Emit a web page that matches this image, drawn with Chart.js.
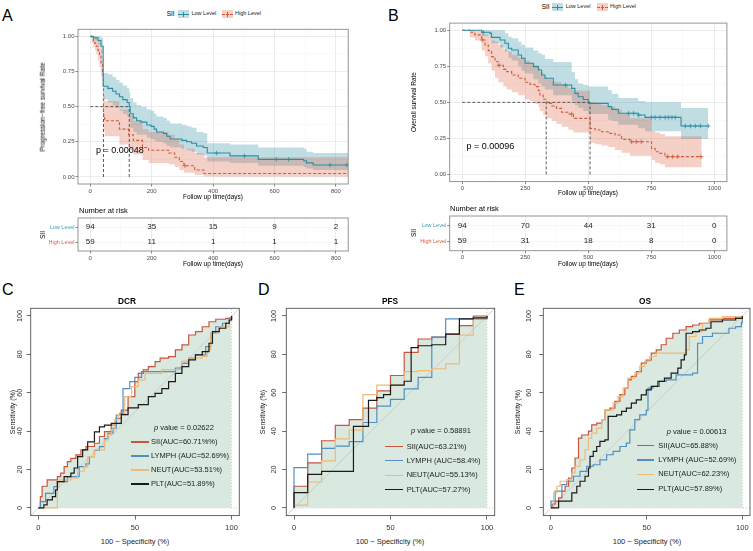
<!DOCTYPE html>
<html><head><meta charset="utf-8">
<script src="https://cdn.jsdelivr.net/npm/chart.js@4.4.1/dist/chart.umd.min.js"></script>
<style>
html,body{margin:0;padding:0;background:#fff;}
#root{position:relative;width:753px;height:551px;overflow:hidden;background:#fff;font-family:"Liberation Sans",Arial,Helvetica,sans-serif;}
#root canvas{position:absolute;}
.t{position:absolute;white-space:nowrap;line-height:1;}
</style></head><body><div id="root"></div>
<script>
// ---------------- DATA ----------------
// Panel A: progression-free survival (days)
const pfsLowTime  = [0, 10, 25, 35, 42, 57, 73, 84, 95, 106, 120, 127, 130, 140, 151, 165, 184, 198, 208, 216, 238, 249, 260, 298, 314, 330, 346, 368, 381, 455, 547, 695, 704, 726, 840];
const pfsLowSurv  = [1.0, 0.99, 0.97, 0.93, 0.645, 0.63, 0.61, 0.59, 0.57, 0.55, 0.53, 0.50, 0.45, 0.42, 0.40, 0.39, 0.37, 0.36, 0.34, 0.32, 0.31, 0.29, 0.27, 0.26, 0.25, 0.24, 0.22, 0.21, 0.17, 0.15, 0.125, 0.115, 0.10, 0.085, 0.085];
const pfsLowLower = [1.0, 0.97, 0.94, 0.88, 0.55, 0.53, 0.51, 0.49, 0.47, 0.45, 0.43, 0.40, 0.35, 0.32, 0.30, 0.30, 0.28, 0.27, 0.26, 0.25, 0.24, 0.22, 0.21, 0.20, 0.19, 0.18, 0.16, 0.15, 0.11, 0.10, 0.08, 0.07, 0.06, 0.05, 0.05];
const pfsLowUpper = [1.0, 1.0, 1.0, 0.99, 0.74, 0.73, 0.71, 0.69, 0.67, 0.65, 0.63, 0.60, 0.56, 0.53, 0.51, 0.50, 0.48, 0.47, 0.45, 0.43, 0.42, 0.40, 0.38, 0.37, 0.36, 0.35, 0.32, 0.31, 0.24, 0.23, 0.21, 0.20, 0.18, 0.17, 0.17];
const pfsHighTime  = [0, 5, 10, 15, 20, 25, 30, 35, 40, 43, 47, 95, 125, 140, 170, 190, 255, 275, 290, 305, 340, 370, 840];
const pfsHighSurv  = [1.0, 0.983, 0.966, 0.95, 0.93, 0.90, 0.86, 0.80, 0.75, 0.44, 0.40, 0.34, 0.30, 0.26, 0.21, 0.19, 0.17, 0.14, 0.11, 0.08, 0.05, 0.025, 0.025];
const pfsHighLower = [1.0, 0.95, 0.92, 0.90, 0.87, 0.83, 0.78, 0.71, 0.65, 0.33, 0.29, 0.23, 0.19, 0.16, 0.12, 0.10, 0.09, 0.07, 0.05, 0.03, 0.015, 0.004, 0.004];
const pfsHighUpper = [1.0, 1.0, 1.0, 1.0, 0.99, 0.98, 0.95, 0.90, 0.86, 0.58, 0.54, 0.48, 0.44, 0.40, 0.34, 0.32, 0.30, 0.27, 0.23, 0.20, 0.17, 0.14, 0.14];
const pfsLowCensor  = [411, 502, 606, 646, 781, 836];
const pfsHighCensor = [308];
const pfsMedians = [43, 127];
const pfsRiskTimes = [0, 200, 400, 600, 800];
const pfsRiskLow   = [94, 35, 15, 9, 2];
const pfsRiskHigh  = [59, 11, 1, 1, 1];
const pfsXMajor = [0, 200, 400, 600, 800];
const pfsXAll   = [0, 100, 200, 300, 400, 500, 600, 700, 800];

// Panel B: overall survival (days)
const osLowTime  = [0, 77, 110, 116, 150, 169, 183, 196, 222, 235, 249, 282, 302, 315, 328, 361, 434, 447, 460, 480, 500, 579, 593, 619, 698, 725, 868, 976];
const osLowSurv  = [1.0, 0.986, 0.979, 0.951, 0.933, 0.91, 0.875, 0.863, 0.829, 0.806, 0.771, 0.748, 0.725, 0.69, 0.667, 0.62, 0.597, 0.5625, 0.539, 0.52, 0.493, 0.47, 0.451, 0.424, 0.412, 0.396, 0.336, 0.336];
const osLowLower = [1.0, 0.96, 0.945, 0.91, 0.88, 0.85, 0.81, 0.79, 0.75, 0.72, 0.70, 0.66, 0.63, 0.61, 0.59, 0.55, 0.51, 0.48, 0.46, 0.44, 0.42, 0.38, 0.37, 0.345, 0.32, 0.30, 0.245, 0.235];
const osLowUpper = [1.0, 1.0, 1.0, 1.0, 1.0, 0.98, 0.956, 0.945, 0.92, 0.90, 0.88, 0.86, 0.84, 0.83, 0.80, 0.78, 0.71, 0.66, 0.63, 0.62, 0.61, 0.585, 0.56, 0.53, 0.51, 0.50, 0.46, 0.46];
const osHighTime  = [0, 30, 50, 77, 90, 103, 116, 130, 143, 163, 176, 196, 222, 249, 269, 288, 302, 308, 321, 335, 355, 374, 394, 421, 441, 507, 527, 553, 579, 606, 632, 665, 751, 765, 784, 804, 950];
const osHighSurv  = [1.0, 0.986, 0.968, 0.933, 0.898, 0.859, 0.817, 0.782, 0.757, 0.729, 0.713, 0.69, 0.667, 0.639, 0.625, 0.609, 0.581, 0.551, 0.521, 0.493, 0.475, 0.458, 0.431, 0.419, 0.389, 0.319, 0.308, 0.296, 0.285, 0.273, 0.243, 0.227, 0.18, 0.157, 0.146, 0.123, 0.123];
const osHighLower = [1.0, 0.95, 0.93, 0.86, 0.82, 0.77, 0.72, 0.67, 0.64, 0.61, 0.59, 0.57, 0.55, 0.52, 0.51, 0.49, 0.47, 0.44, 0.41, 0.39, 0.37, 0.35, 0.33, 0.31, 0.29, 0.22, 0.21, 0.20, 0.19, 0.17, 0.15, 0.13, 0.10, 0.08, 0.07, 0.05, 0.05];
const osHighUpper = [1.0, 1.0, 1.0, 0.98, 0.97, 0.96, 0.93, 0.92, 0.90, 0.87, 0.85, 0.83, 0.81, 0.79, 0.77, 0.76, 0.74, 0.71, 0.68, 0.66, 0.645, 0.64, 0.62, 0.60, 0.58, 0.50, 0.49, 0.48, 0.47, 0.45, 0.42, 0.39, 0.30, 0.29, 0.28, 0.265, 0.265];
const osLowCensor  = [83, 410, 660, 680, 700, 750, 765, 785, 805, 818, 832, 845, 885, 905, 925, 945, 976];
const osHighCensor = [79, 146, 434, 672, 690, 710, 815, 835, 855, 947];
const osMedians = [333, 507];
const osRiskTimes = [0, 250, 500, 750, 1000];
const osRiskLow   = [94, 70, 44, 31, 0];
const osRiskHigh  = [59, 31, 18, 8, 0];
const osXMajor = [0, 250, 500, 750, 1000];
const osXAll   = [0, 125, 250, 375, 500, 625, 750, 875, 1000];

const survYMajor = [0, 0.25, 0.5, 0.75, 1];
const survYAll   = [0, 0.125, 0.25, 0.375, 0.5, 0.625, 0.75, 0.875, 1];
const riskGroups = ['Low Level', 'High Level'];

// ROC curves: [100 - specificity, sensitivity] (%)
const dcrSII   = [[0,0],[1,5.9],[1.9,11.3],[4.5,14.6],[8.9,14.6],[9.8,16.3],[11.5,18.1],[13.3,21.5],[15,24.1],[16.8,25.8],[19.4,27.6],[22,30.2],[24.6,32],[29,33.7],[31.6,37.2],[34.2,39.8],[37.7,43.2],[40.3,46.7],[42.9,51],[46.4,58],[49.9,65.8],[51.7,70.1],[54.3,71.9],[56.9,73.6],[60.4,76.2],[63,78],[67.4,78.8],[70.9,82.3],[74.3,84.9],[77.8,90.1],[81.3,91.8],[84.8,94.4],[88.3,97],[91.8,98.3],[97,98.8],[100,100]];
const dcrLYMPH = [[0,0],[1,3.3],[3.7,7.6],[8,11.1],[9.8,13.7],[15,16.3],[21.1,21.5],[24.6,23],[26.4,26.7],[29,30],[31.6,31.9],[34.2,36.1],[36,38.9],[38.6,41.5],[40.3,48.4],[42.1,49.3],[43.8,62.2],[47.3,65.8],[49.9,68],[53.4,71],[67.4,71],[70.9,72.9],[74.3,75.3],[77.8,78],[81.3,79.7],[86.6,84],[89.2,91],[91.8,94.4],[95.3,96.2],[98.8,98.9],[100,100]];
const dcrNEUT  = [[0,0],[8.9,0],[9.8,11.1],[10.7,14.6],[16.8,15.5],[20.3,19.1],[23.7,21.5],[25.5,26.7],[29,30.2],[34.2,35.4],[36,38.2],[37.7,40.8],[39.5,46],[41.2,48.6],[44.7,58],[48.2,63.2],[51.7,66.7],[55.2,70.1],[63.9,72],[72.6,72],[74.3,76.4],[77.8,78],[84.8,79],[87.4,82.3],[89.2,91],[93.6,94.4],[98.8,97.9],[100,100]];
const dcrPLT   = [[0,0],[2.8,1.6],[4.5,4.2],[7.2,5.9],[8.9,9.4],[9.8,13.7],[13.3,16.3],[16.8,18.1],[18.5,20.8],[20.3,26.7],[22.9,30.2],[25.5,34.4],[29,39.6],[31.6,42.2],[34.2,43.1],[37.7,44],[42.9,48.6],[46.4,52.1],[51.7,53.8],[56.9,58],[60.4,59.7],[63.9,62.2],[67.4,65.8],[70.9,70.1],[74.3,73.6],[77.8,77.1],[81.3,79.7],[84.8,81.4],[88.3,85.8],[90.1,91.8],[93.6,93.6],[97,96.2],[98.8,97.9],[100,100]];

const pfsSII   = [[0,0],[0,11.3],[7.1,23.5],[14.3,35],[21.4,43],[28.6,46],[35.7,52],[42.9,61],[50,69],[57.1,81],[64.3,88],[71.4,89],[78.6,90.5],[85.7,95],[92.9,100],[100,100]];
const pfsLYMPH = [[0,0],[0,21],[7.1,28],[14.3,31],[21.4,32.2],[28.6,34.5],[35.7,44.5],[42.9,53],[50,56.5],[57.1,62],[64.3,68],[71.4,89],[78.6,98.5],[100,100]];
const pfsNEUT  = [[0,0],[0,1.5],[7.1,13.5],[14.3,24.5],[21.4,36],[28.6,40.5],[35.7,59],[42.9,64],[57.1,71],[64.3,71.5],[71.4,72.5],[78.6,75],[85.7,90],[92.9,99],[100,100]];
const pfsPLT   = [[0,0],[0,8],[7.1,17.5],[14.3,19],[30.8,42.5],[38.6,56],[42.9,57.5],[46.4,59],[50,64],[57.1,66],[60.7,83.5],[64.3,84.5],[71.4,85],[78.6,90.5],[85.7,98.5],[92.9,99],[100,100]];

const osSII   = [[0,0],[0.5,2],[2.2,3.5],[4,5.2],[5.7,8.7],[7.4,11.3],[9.2,15.6],[10.9,20.8],[12.6,26],[14.4,36.4],[16.1,38],[19.6,40],[21.3,43.3],[23.9,44.2],[26.5,46],[28.2,51],[30.8,52],[33.4,55.5],[36,59],[38.6,62.4],[40.3,66.7],[42,68.5],[44.6,71],[47.2,75.4],[49.8,77],[52.4,80.6],[55,82.3],[57.6,85],[60.2,88.4],[63.7,91],[67.1,92.7],[70.6,94.5],[74,95.3],[77.5,96.2],[82.7,98],[89.6,98.8],[96.5,99.7],[100,100]];
const osLYMPH = [[0,0],[0,3.5],[2.2,8.7],[5.7,12.1],[8.3,13.9],[11.8,16.5],[15.2,19],[18.7,21.7],[22.1,22.5],[25.6,25],[29.1,27.7],[32.5,29.5],[36,32],[39.4,33.8],[41.2,40.7],[43.8,46],[46.4,48.5],[49.8,51],[50.7,62.4],[53.3,63.3],[56.7,65.9],[60.2,66.7],[65.4,69.3],[74,70.2],[76.6,85.8],[79.2,89.3],[84.4,91],[93,93.6],[96.5,94.5],[99.5,96.5],[100,100]];
const osNEUT  = [[0,0],[1.4,7.8],[3.1,11.3],[4.8,13.9],[8.3,14.7],[10.9,18.2],[12.6,21.7],[15.2,25.1],[17.8,30.3],[19.6,36.4],[21.3,39],[23.9,41.6],[26.5,46],[28.2,51],[32.5,54.6],[35.1,58],[37.7,62.4],[40.3,67.6],[43.8,70.2],[46.4,73.7],[49,76.3],[51.6,78.9],[55,80.6],[70.6,82.3],[72.3,89.3],[75.8,91.9],[79.2,96.2],[82.7,98.8],[89.6,99.7],[100,100]];
const osPLT   = [[0,0],[4,3.5],[10.9,7.8],[13.5,11.3],[15.2,13.9],[17.8,16.5],[19.6,20.8],[20.4,26.9],[22.1,29.5],[23.9,32],[25.6,34.7],[28.2,35.5],[29.9,47.7],[34.3,48.5],[36.9,50.3],[39.4,52],[42,54.6],[44.6,56.3],[47.2,58.9],[49.8,61.5],[52.4,63.3],[55.9,65.9],[59.3,67.6],[62.8,70.2],[66.3,72.8],[68,77.1],[69.7,79.7],[70.6,91],[74,91.9],[77.5,92.7],[81,93.6],[83.6,97],[89.6,97.9],[96.5,98.8],[100,100]];

const rocXTicks = [0, 50, 100];
const rocYTicks = [0, 20, 40, 60, 80, 100];
const dcrLegend = ['SII(AUC=60.71%%)', 'LYMPH (AUC=52.69%)', 'NEUT(AUC=53.51%)', 'PLT(AUC=51.89%)'];
const pfsLegend = ['SII(AUC=63.21%)', 'LYMPH (AUC=58.4%)', 'NEUT(AUC=55.13%)', 'PLT(AUC=57.27%)'];
const osLegend  = ['SII(AUC=65.88%)', 'LYMPH (AUC=52.69%)', 'NEUT(AUC=62.23%)', 'PLT(AUC=57.89%)'];
const rocPValues = ['0.02622', '0.58891', '0.00613'];

// ---------------- STYLE ----------------
const FONT = '"Liberation Sans", Arial, Helvetica, sans-serif';
Chart.defaults.font.family = FONT;
const TEAL = '#2b8fa3', RED = '#cf5a3c';
const TEAL_BAND = 'rgba(43,143,163,0.30)', RED_BAND = 'rgba(220,100,70,0.30)';
const TEAL_TXT = '#3a9fb4', RED_TXT = '#d4613f';
const ROC_COL = ['#c9553d', '#4f8fc6', '#f0b978', '#1a1a1a'];
const ROC_FILL = '#d9e9df';
const root = document.getElementById('root');

function txt(s, x, y, o = {}) {
  const d = document.createElement('div');
  d.className = 't';
  if (o.html) d.innerHTML = s; else d.textContent = s;
  d.style.left = x + 'px'; d.style.top = y + 'px';
  d.style.fontSize = (o.size || 7) + 'px';
  d.style.color = o.color || '#000';
  if (o.bold) d.style.fontWeight = 'bold';
  const ax = o.align === 'left' ? '0' : (o.align === 'right' ? '-100%' : '-50%');
  d.style.transform = 'translate(' + ax + ',-50%)' + (o.rot ? ' rotate(' + o.rot + 'deg)' : '');
  root.appendChild(d);
  return d;
}
function box(x, y, w, h, css) {
  const d = document.createElement('div');
  d.style.position = 'absolute';
  d.style.left = x + 'px'; d.style.top = y + 'px';
  d.style.width = w + 'px'; d.style.height = h + 'px';
  Object.assign(d.style, css || {});
  root.appendChild(d);
  return d;
}

function fixedChart(rect, area, config) {
  const c = document.createElement('canvas');
  c.width = rect.w; c.height = rect.h;
  c.style.left = rect.l + 'px'; c.style.top = rect.t + 'px';
  c.style.width = rect.w + 'px'; c.style.height = rect.h + 'px';
  root.appendChild(c);
  const o = config.options;
  o.responsive = false; o.animation = false; o.devicePixelRatio = 1; o.events = [];
  o.layout = {padding: {left: 0, top: area.T - rect.t, right: rect.l + rect.w - area.R, bottom: 0}};
  o.plugins = Object.assign({legend: {display: false}, tooltip: {enabled: false}}, o.plugins || {});
  o.scales.x.afterFit = s => { s.height = rect.t + rect.h - area.B; s.paddingLeft = 0; s.paddingRight = 0; };
  o.scales.y.afterFit = s => { s.width = area.L - rect.l; s.paddingTop = 0; s.paddingBottom = 0; };
  return new Chart(c, config);
}

const panelBorder = {
  id: 'panelBorder',
  afterDraw(chart) {
    const a = chart.chartArea, ctx = chart.ctx;
    ctx.save(); ctx.strokeStyle = '#8a8a8a'; ctx.lineWidth = 0.9;
    ctx.strokeRect(a.left, a.top, a.right - a.left, a.bottom - a.top);
    ctx.restore();
  }
};

function ggGrid(majors) {
  const isMaj = c => c.tick && majors.includes(c.tick.value);
  return {
    drawOnChartArea: true, drawTicks: true, tickLength: 2.5,
    color: c => isMaj(c) ? '#e4e4e4' : '#f2f2f2',
    lineWidth: c => isMaj(c) ? 0.7 : 0.45,
    tickColor: c => isMaj(c) ? '#555' : 'rgba(0,0,0,0)',
    tickWidth: 0.7
  };
}
function ggXScale(range, majors, all) {
  return {
    type: 'linear', min: range[0], max: range[1], border: {display: false},
    afterBuildTicks: s => { s.ticks = all.map(v => ({value: v})); },
    ticks: {autoSkip: false, maxRotation: 0, minRotation: 0, padding: 1, color: '#4d4d4d', font: {size: 6},
            callback: v => majors.includes(v) ? String(v) : ''},
    grid: ggGrid(majors)
  };
}

const stepPts = (t, v) => t.map((x, i) => ({x: x, y: v[i]}));
function survAt(t, s, time) { let r = s[0]; for (let i = 0; i < t.length; i++) if (t[i] <= time) r = s[i]; return r; }

function kmChart(rect, area, range, xMajor, xAll, low, high, medians) {
  const line = (data, color, dash) => ({data, borderColor: color, borderWidth: 1.1, borderDash: dash || [], stepped: 'before',
                                         pointRadius: 0, fill: false, showLine: true});
  const cens = (g, color) => ({data: g.censor.map(t => ({x: t, y: survAt(g.time, g.surv, t)})), showLine: false,
                               pointStyle: 'cross', pointRadius: 2.3, borderColor: color, borderWidth: 0.8, backgroundColor: color});
  const medLine = (pts) => ({data: pts, borderColor: '#333', borderWidth: 0.8, borderDash: [3, 2], pointRadius: 0, showLine: true, fill: false});
  const medMax = Math.max(...medians);
  const bandU = (g, col) => ({data: stepPts(g.time, g.upper), stepped: 'before', borderWidth: 0, borderColor: 'rgba(0,0,0,0)',
                             pointRadius: 0, fill: '+1', backgroundColor: col, showLine: true});
  const bandL = (g) => ({data: stepPts(g.time, g.lower), stepped: 'before', borderWidth: 0, borderColor: 'rgba(0,0,0,0)',
                        pointRadius: 0, fill: false, showLine: true});
  const datasets = [
    line(stepPts(low.time, low.surv), TEAL),
    line(stepPts(high.time, high.surv), RED, [3, 2]),
    cens(low, TEAL), cens(high, RED),
    medLine([{x: 0, y: 0.5}, {x: medMax, y: 0.5}]),
    ...medians.map(m => medLine([{x: m, y: 0}, {x: m, y: 0.5}])),
    bandU(high, RED_BAND), bandL(high),
    bandU(low, TEAL_BAND), bandL(low)
  ];
  return fixedChart(rect, area, {
    type: 'line',
    data: {datasets},
    options: {
      scales: {
        x: ggXScale(range, xMajor, xAll),
        y: {type: 'linear', min: -0.05, max: 1.05, border: {display: false},
            afterBuildTicks: s => { s.ticks = survYAll.map(v => ({value: v})); },
            ticks: {autoSkip: false, padding: 1, color: '#4d4d4d', font: {size: 6},
                    callback: v => survYMajor.includes(v) ? v.toFixed(2) : ''},
            grid: ggGrid(survYMajor)}
      }
    },
    plugins: [panelBorder]
  });
}

function riskChart(rect, area, range, xMajor, xAll, times, low, high) {
  const riskText = {
    id: 'riskText',
    afterDatasetsDraw(chart) {
      const {ctx, scales: {x, y}} = chart;
      ctx.save(); ctx.font = '8px ' + FONT; ctx.fillStyle = '#1a1a1a'; ctx.textAlign = 'center'; ctx.textBaseline = 'middle';
      times.forEach((t, i) => {
        ctx.fillText(String(low[i]), x.getPixelForValue(t), y.getPixelForValue(1));
        ctx.fillText(String(high[i]), x.getPixelForValue(t), y.getPixelForValue(2));
      });
      ctx.restore();
    }
  };
  return fixedChart(rect, area, {
    type: 'line',
    data: {datasets: [{data: [], showLine: false, pointRadius: 0}]},
    options: {
      scales: {
        x: ggXScale(range, xMajor, xAll),
        y: {type: 'linear', min: 0.4, max: 2.6, reverse: true, border: {display: false},
            afterBuildTicks: s => { s.ticks = [{value: 1}, {value: 2}]; },
            ticks: {autoSkip: false, padding: 1, font: {size: 5.5},
                    color: c => c.index === 0 ? TEAL_TXT : RED_TXT,
                    callback: v => riskGroups[v - 1]},
            grid: {color: '#ededed', lineWidth: 0.5, tickColor: '#555', tickLength: 2.5, tickWidth: 0.7}}
      }
    },
    plugins: [panelBorder, riskText]
  });
}

function rocChart(rect, area, curves, yLabOffset) {
  const pts = arr => arr.map(p => ({x: p[0], y: p[1]}));
  const curve = (arr, col) => ({data: pts(arr), borderColor: col, borderWidth: 1.2, stepped: 'before', pointRadius: 0, fill: false, showLine: true});
  const datasets = [
    curve(curves[3], ROC_COL[3]),
    curve(curves[2], ROC_COL[2]),
    curve(curves[1], ROC_COL[1]),
    curve(curves[0], ROC_COL[0]),
    {data: [{x: -4, y: -4}, {x: 104, y: 104}], borderColor: '#c4c4c4', borderWidth: 0.8, pointRadius: 0, fill: false, showLine: true},
    {data: pts(curves[0]), stepped: 'before', borderWidth: 0, borderColor: 'rgba(0,0,0,0)', pointRadius: 0, fill: 'origin', backgroundColor: ROC_FILL, showLine: true},
    {data: [{x: 0, y: 0}, {x: 104, y: 0}], borderColor: '#b5b5b5', borderWidth: 0.8, borderDash: [1, 2], pointRadius: 0, fill: false, showLine: true},
    {data: [{x: 100, y: 0}, {x: 100, y: 104}], borderColor: '#b5b5b5', borderWidth: 0.8, borderDash: [1, 2], pointRadius: 0, fill: false, showLine: true}
  ];
  const rocDeco = {
    id: 'rocDeco',
    afterDraw(chart) {
      const {ctx, scales: {y}, chartArea: a} = chart;
      ctx.save();
      ctx.font = '7.2px ' + FONT; ctx.fillStyle = '#333'; ctx.textAlign = 'center'; ctx.textBaseline = 'middle';
      rocYTicks.forEach(v => {
        ctx.save(); ctx.translate(a.left - yLabOffset, y.getPixelForValue(v)); ctx.rotate(-Math.PI / 2);
        ctx.fillText(String(v), 0, 0); ctx.restore();
      });
      ctx.strokeStyle = '#555'; ctx.lineWidth = 0.9;
      ctx.strokeRect(a.left, a.top, a.right - a.left, a.bottom - a.top);
      ctx.restore();
    }
  };
  const tickGrid = {drawOnChartArea: false, drawTicks: true, tickLength: 4, tickColor: '#444', tickWidth: 0.8, color: '#444'};
  return fixedChart(rect, area, {
    type: 'line',
    data: {datasets},
    options: {
      scales: {
        x: {type: 'linear', min: -4, max: 104, border: {display: false},
            afterBuildTicks: s => { s.ticks = rocXTicks.map(v => ({value: v})); },
            ticks: {autoSkip: false, maxRotation: 0, padding: 4, color: '#333', font: {size: 7.5}},
            grid: tickGrid},
        y: {type: 'linear', min: -4, max: 104, border: {display: false},
            afterBuildTicks: s => { s.ticks = rocYTicks.map(v => ({value: v})); },
            ticks: {display: false},
            grid: tickGrid}
      }
    },
    plugins: [rocDeco]
  });
}

// ---------------- PANEL A ----------------
const gPfsLow  = {time: pfsLowTime, surv: pfsLowSurv, lower: pfsLowLower, upper: pfsLowUpper, censor: pfsLowCensor};
const gPfsHigh = {time: pfsHighTime, surv: pfsHighSurv, lower: pfsHighLower, upper: pfsHighUpper, censor: pfsHighCensor};
kmChart({l: 40, t: 20, w: 315, h: 176}, {L: 78, T: 29.3, R: 348.2, B: 184}, [-40, 840], pfsXMajor, pfsXAll, gPfsLow, gPfsHigh, pfsMedians);
riskChart({l: 40, t: 214, w: 315, h: 48}, {L: 78, T: 218, R: 348.2, B: 251}, [-40, 840], pfsXMajor, pfsXAll, pfsRiskTimes, pfsRiskLow, pfsRiskHigh);

// ---------------- PANEL B ----------------
const gOsLow  = {time: osLowTime, surv: osLowSurv, lower: osLowLower, upper: osLowUpper, censor: osLowCensor};
const gOsHigh = {time: osHighTime, surv: osHighSurv, lower: osHighLower, upper: osHighUpper, censor: osHighCensor};
kmChart({l: 415, t: 14, w: 320, h: 180}, {L: 449.7, T: 23.1, R: 726.9, B: 181.6}, [-50, 1050], osXMajor, osXAll, gOsLow, gOsHigh, osMedians);
riskChart({l: 415, t: 212, w: 320, h: 50}, {L: 449.7, T: 216, R: 726.9, B: 250.7}, [-50, 1050], osXMajor, osXAll, osRiskTimes, osRiskLow, osRiskHigh);

// ---------------- ROC PANELS ----------------
rocChart({l: 0, t: 300, w: 250, h: 236}, {L: 30.7, T: 308.3, R: 239.3, B: 515.6}, [dcrSII, dcrLYMPH, dcrNEUT, dcrPLT], 11);
rocChart({l: 255, t: 300, w: 250, h: 236}, {L: 286.3, T: 308.3, R: 494.7, B: 515.6}, [pfsSII, pfsLYMPH, pfsNEUT, pfsPLT], 12.7);
rocChart({l: 510, t: 300, w: 243, h: 236}, {L: 543.3, T: 308.3, R: 750, B: 515.6}, [osSII, osLYMPH, osNEUT, osPLT], 14);

// ---------------- TEXT ----------------
txt('A', 2, 16, {size: 16, align: 'left'});
txt('B', 388, 16, {size: 16, align: 'left'});
txt('C', 2, 290, {size: 16, align: 'left'});
txt('D', 258, 290, {size: 16, align: 'left'});
txt('E', 514, 290, {size: 16, align: 'left'});

function kmLegend(x, y, sx1, tx1, sx2, tx2) {
  txt('SII', x, y, {size: 6.5, align: 'left'});
  box(sx1, y - 4, 11, 8, {background: TEAL_BAND});
  box(sx1, y - 0.5, 11, 1, {background: TEAL});
  box(sx1 + 5, y - 2.5, 1, 5, {background: TEAL});
  txt('Low Level', tx1, y, {size: 5.5, align: 'left', color: '#222'});
  box(sx2, y - 4, 11, 8, {background: RED_BAND});
  box(sx2, y - 0.5, 11, 0, {borderTop: '1px dashed ' + RED});
  box(sx2 + 5, y - 2.5, 1, 5, {background: RED});
  txt('High Level', tx2, y, {size: 5.5, align: 'left', color: '#222'});
}
kmLegend(166.7, 14, 177.5, 191.5, 222, 235);
kmLegend(541.7, 7, 551.5, 565.7, 596.7, 610);

txt('Progression\u2212free survival Rate', 43.3, 106.7, {size: 6.5, rot: -90});
txt('Follow up time(days)', 213, 196.7, {size: 6.5});
txt('p = 0.00048', 96, 150, {size: 9, align: 'left'});
txt('Overall survival Rate', 414.3, 102, {size: 6.5, rot: -90});
txt('Follow up time(days)', 588, 193.3, {size: 6.5});
txt('p = 0.00096', 466.5, 146, {size: 9, align: 'left'});

txt('Number at risk', 79, 210.7, {size: 7.5, align: 'left'});
txt('SII', 43.3, 235, {size: 6.5, rot: -90});
txt('Follow up time(days)', 213, 263.5, {size: 6.5});
txt('Number at risk', 450, 209, {size: 7.5, align: 'left'});
txt('SII', 414.3, 233.3, {size: 6.5, rot: -90});
txt('Follow up time(days)', 588, 263.5, {size: 6.5});

function rocText(title, tx, ylabX, xlabX, pX, pY, lineX, textX, rowsY, legend, pval) {
  txt(title, tx, 301, {size: 8.3, bold: true});
  txt('Sensitivity (%)', ylabX, 412, {size: 7, rot: -90, color: '#222'});
  txt('100 \u2212 Specificity (%)', xlabX, 542, {size: 7.5, color: '#222'});
  txt('<i>p</i> value = ' + pval, pX, pY, {size: 7.5, align: 'left', html: true, color: '#222'});
  legend.forEach((s, i) => {
    box(lineX, rowsY[i] - 0.7, 17.5, 1.4, {background: ROC_COL[i]});
    txt(s, textX, rowsY[i], {size: 7.5, align: 'left', color: '#222'});
  });
}
rocText('DCR', 127, 11.8, 135, 154, 428, 131, 151, [442, 456, 470, 484], dcrLegend, rocPValues[0]);
rocText('PFS', 390, 261.7, 390, 411, 431, 385, 406.7, [446.7, 460.7, 475.3, 489.7], pfsLegend, rocPValues[1]);
rocText('OS', 645, 517.3, 647, 666.7, 431.7, 636.7, 658.3, [445.7, 460, 474.3, 489.3], osLegend, rocPValues[2]);
</script></body></html>
